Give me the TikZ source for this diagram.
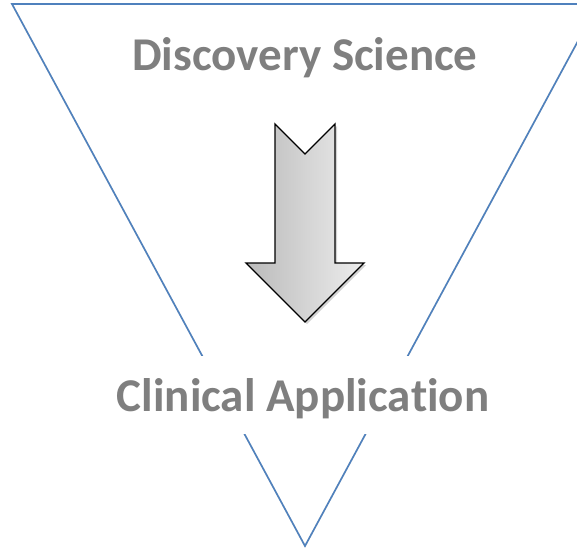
\documentclass[tikz,border=0pt]{standalone}
\usepackage{fontspec}
\setmainfont{Carlito}[RawFeature={-liga;-clig;-calt;-dlig}]
\usetikzlibrary{positioning, shadows}
\definecolor{funnelblue}{RGB}{79,129,189}
\definecolor{labelgray}{RGB}{127,127,127}
\tikzset{stage/.style={font=\bfseries\fontsize{47}{57}\selectfont, text=labelgray, anchor=base},
         funnel/.style={draw=funnelblue, line width=1.6pt, line join=miter},
         flow/.style={draw=black, line width=1.3pt, line join=miter,
                      left color=black!27, right color=black!7,
                      drop shadow={shadow xshift=2pt, shadow yshift=-2pt, opacity=0.35}},
        }

\begin{document}
\begin{tikzpicture}[x=1pt, y=-1pt]
        \useasboundingbox (0,0) rectangle (577,549);
        \clip (0,0) rectangle (577,549);

        \coordinate (tl) at (12,4);
        \coordinate (tr) at (598,4);
        \coordinate (tip) at (305,546);

        % funnel outline with a faint shadow
        \draw[black!12, line width=1.8pt, shift={(1.5,1.5)}] (tl)--(tr)--(tip)--cycle;
        \draw[funnel] (tl)--(tr)--(tip)--cycle;

        \node[stage](top)at(305,70){Discovery Science};

        % notched arrow pointing down
        \draw[flow, shift={(305,124)}] (-30,0)--(0,30)--(30,0)--(30,139)--(59,139)
            --(0,198)--(-59,139)--(-30,139)--cycle;

        \node[stage, fill=white, text height=55pt, text depth=23pt,
              inner ysep=0pt, inner xsep=12pt](bottom)at(303,411){Clinical Applica\kern0pt tion};
    \end{tikzpicture}
\end{document}
